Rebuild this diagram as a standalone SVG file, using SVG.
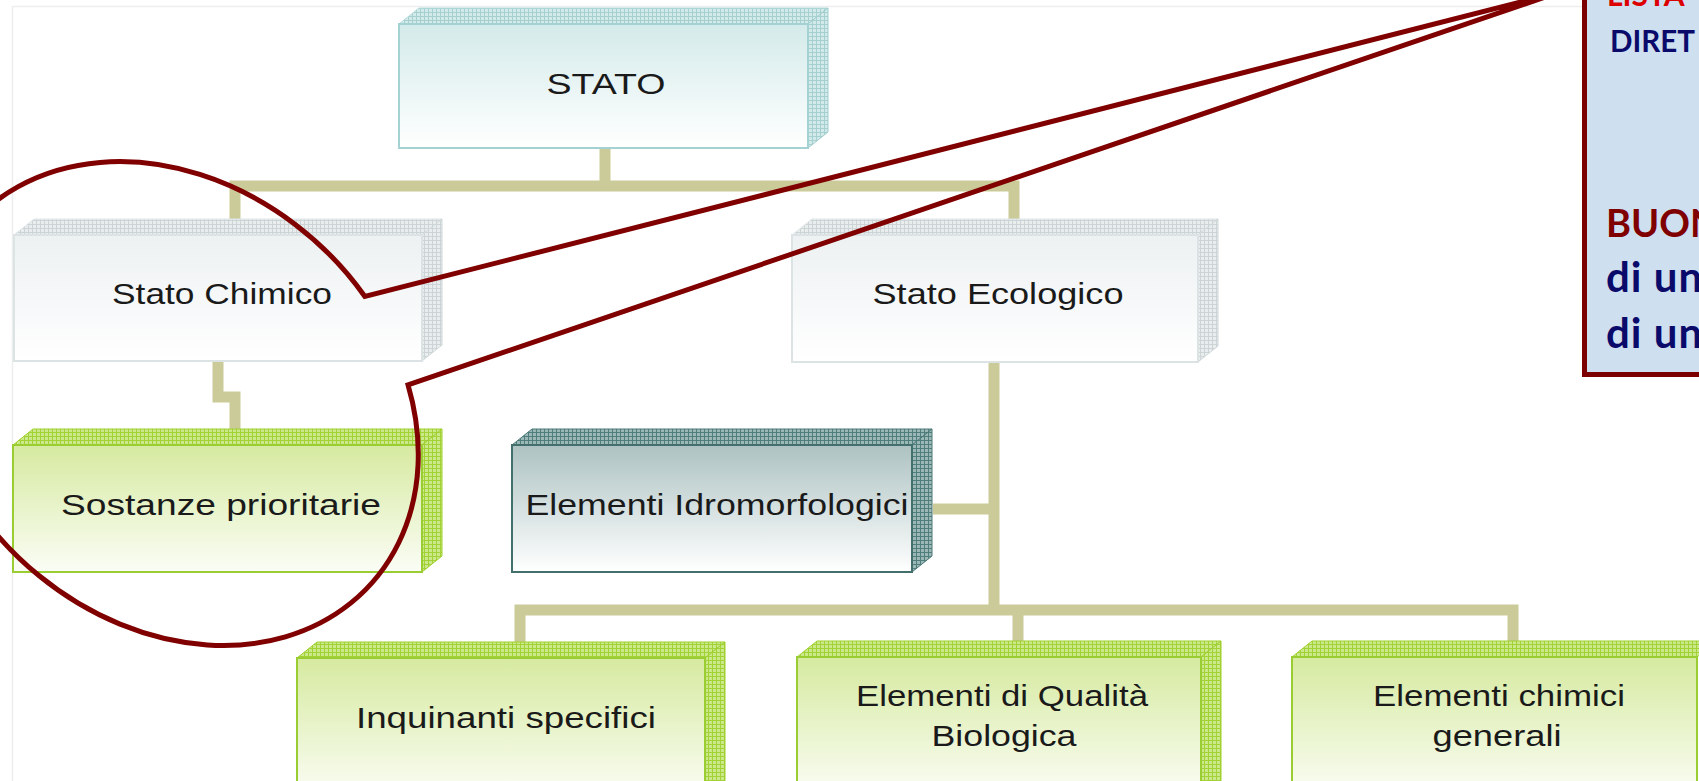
<svg xmlns="http://www.w3.org/2000/svg" width="1699" height="781" viewBox="0 0 1699 781">
<defs>
<style>
.lbl{font-family:"Liberation Sans",Arial,sans-serif;font-size:30px;fill:#1a1a1a;text-anchor:middle}
.conn{fill:none;stroke:#cbcb99;stroke-width:11;stroke-linejoin:miter}
.co{font-family:Lato,"Open Sans",sans-serif;font-weight:bold}
</style>
<pattern id="pTeal" width="4" height="4" patternUnits="userSpaceOnUse"><rect width="4" height="4" fill="#d2eaea"/><path d="M0 0.5H4M0.5 0V4" stroke="#a6d0d0" stroke-width="1"/></pattern>
<pattern id="pGray" width="4" height="4" patternUnits="userSpaceOnUse"><rect width="4" height="4" fill="#e9edee"/><path d="M0 0.5H4M0.5 0V4" stroke="#ccd4d6" stroke-width="1"/></pattern>
<pattern id="pGreen" width="4" height="4" patternUnits="userSpaceOnUse"><rect width="4" height="4" fill="#cbe88a"/><path d="M0 0.5H4M0.5 0V4" stroke="#a2d236" stroke-width="1"/></pattern>
<pattern id="pDark" width="4" height="4" patternUnits="userSpaceOnUse"><rect width="4" height="4" fill="#9bb8b6"/><path d="M0 0.5H4M0.5 0V4" stroke="#4f7e7c" stroke-width="1"/></pattern>
<linearGradient id="gTeal" x1="0" y1="0" x2="0" y2="1"><stop offset="0" stop-color="#d4eaea"/><stop offset="1" stop-color="#ffffff"/></linearGradient>
<linearGradient id="gGray" x1="0" y1="0" x2="0" y2="1"><stop offset="0" stop-color="#edf1f2"/><stop offset="1" stop-color="#ffffff"/></linearGradient>
<linearGradient id="gGreen" x1="0" y1="0" x2="0" y2="1"><stop offset="0" stop-color="#d6eaa0"/><stop offset="1" stop-color="#fbfdf6"/></linearGradient>
<linearGradient id="gDark" x1="0" y1="0" x2="0" y2="1"><stop offset="0" stop-color="#adc2c2"/><stop offset="1" stop-color="#ffffff"/></linearGradient>
</defs>
<rect width="1699" height="781" fill="#ffffff"/>
<path d="M12.5 781V6.5H1590" fill="none" stroke="#ededed" stroke-width="1.5"/>

<g id="connectors">
<path class="conn" d="M605 148V186"/>
<path class="conn" d="M235 219V186H1014V219"/>
<path class="conn" d="M218 361V397H235V429"/>
<path class="conn" d="M994 362V610"/>
<path class="conn" d="M933 509H994"/>
<path class="conn" d="M520 642V610H1513V641"/>
<path class="conn" d="M1018 610V642"/>
</g>

<g id="stato">
<polygon points="399,24 419,8 828,8 808,24" fill="url(#pTeal)" stroke="#b4dcdc" stroke-width="1"/>
<polygon points="808,24 828,8 828,132 808,148" fill="url(#pTeal)" stroke="#9fcccc" stroke-width="1"/>
<rect x="399" y="24" width="409" height="124" fill="url(#gTeal)" stroke="#a4d2d2" stroke-width="2"/>
<text class="lbl" x="606" y="94" textLength="119" lengthAdjust="spacingAndGlyphs">STATO</text>
</g>

<g id="stato-chimico">
<polygon points="14,235 34,219 442,219 422,235" fill="url(#pGray)" stroke="#dfe5e7" stroke-width="1"/>
<polygon points="422,235 442,219 442,345 422,361" fill="url(#pGray)" stroke="#d0d8da" stroke-width="1"/>
<rect x="14" y="235" width="408" height="126" fill="url(#gGray)" stroke="#dbe3e5" stroke-width="2"/>
<text class="lbl" x="222" y="304" textLength="220" lengthAdjust="spacingAndGlyphs">Stato Chimico</text>
</g>

<g id="stato-ecologico">
<polygon points="792,235 812,219 1218,219 1198,235" fill="url(#pGray)" stroke="#dfe5e7" stroke-width="1"/>
<polygon points="1198,235 1218,219 1218,346 1198,362" fill="url(#pGray)" stroke="#d0d8da" stroke-width="1"/>
<rect x="792" y="235" width="406" height="127" fill="url(#gGray)" stroke="#dbe3e5" stroke-width="2"/>
<text class="lbl" x="998" y="304" textLength="251" lengthAdjust="spacingAndGlyphs">Stato Ecologico</text>
</g>

<g id="sostanze">
<polygon points="13,445 33,429 442,429 422,445" fill="url(#pGreen)" stroke="#9fd02c" stroke-width="1"/>
<polygon points="422,445 442,429 442,556 422,572" fill="url(#pGreen)" stroke="#9fd02c" stroke-width="1"/>
<rect x="13" y="445" width="409" height="127" fill="url(#gGreen)" stroke="#9acd32" stroke-width="2"/>
<text class="lbl" x="221" y="515" textLength="320" lengthAdjust="spacingAndGlyphs">Sostanze prioritarie</text>
</g>

<g id="idromorfologici">
<polygon points="512,445 532,429 932,429 912,445" fill="url(#pDark)" stroke="#4a7876" stroke-width="1"/>
<polygon points="912,445 932,429 932,556 912,572" fill="url(#pDark)" stroke="#4a7876" stroke-width="1"/>
<rect x="512" y="445" width="400" height="127" fill="url(#gDark)" stroke="#436f6d" stroke-width="2"/>
<text class="lbl" x="717" y="515" textLength="383" lengthAdjust="spacingAndGlyphs">Elementi Idromorfologici</text>
</g>

<g id="inquinanti">
<polygon points="297,658 317,642 725,642 705,658" fill="url(#pGreen)" stroke="#9fd02c" stroke-width="1"/>
<polygon points="705,658 725,642 725,782 705,798" fill="url(#pGreen)" stroke="#9fd02c" stroke-width="1"/>
<rect x="297" y="658" width="408" height="140" fill="url(#gGreen)" stroke="#9acd32" stroke-width="2"/>
<text class="lbl" x="506" y="728" textLength="300" lengthAdjust="spacingAndGlyphs">Inquinanti specifici</text>
</g>

<g id="qualita-biologica">
<polygon points="797,657 817,641 1221,641 1201,657" fill="url(#pGreen)" stroke="#9fd02c" stroke-width="1"/>
<polygon points="1201,657 1221,641 1221,781 1201,797" fill="url(#pGreen)" stroke="#9fd02c" stroke-width="1"/>
<rect x="797" y="657" width="404" height="140" fill="url(#gGreen)" stroke="#9acd32" stroke-width="2"/>
<text class="lbl" x="1002" y="706" textLength="292" lengthAdjust="spacingAndGlyphs">Elementi di Qualità</text>
<text class="lbl" x="1004" y="746" textLength="145" lengthAdjust="spacingAndGlyphs">Biologica</text>
</g>

<g id="chimici-generali">
<polygon points="1292,657 1312,641 1717,641 1697,657" fill="url(#pGreen)" stroke="#9fd02c" stroke-width="1"/>
<rect x="1292" y="657" width="405" height="140" fill="url(#gGreen)" stroke="#9acd32" stroke-width="2"/>
<text class="lbl" x="1499" y="706" textLength="252" lengthAdjust="spacingAndGlyphs">Elementi chimici</text>
<text class="lbl" x="1497" y="746" textLength="129" lengthAdjust="spacingAndGlyphs">generali</text>
</g>

<g id="callout-shape">
<path d="M364.89 296.49A269 217 42.3 0 0 -21.89 510.51A269 217 42.3 0 0 408.06 384.93L1560 -8Z" fill="none" stroke="#800000" stroke-width="5" stroke-linejoin="miter"/>
</g>

<g id="callout-box">
<rect x="1584.5" y="-10" width="200" height="384.5" fill="#cedff0" stroke="#7d0000" stroke-width="5"/>
<text class="co" x="1607" y="6" font-size="30" fill="#dd0000">LISTA</text>
<text class="co" x="1610" y="52" font-size="30" fill="#0a0a6a" textLength="85" lengthAdjust="spacingAndGlyphs">DIRET</text>
<text class="co" x="1606" y="237" font-size="38" fill="#800000">BUON</text>
<text class="co" x="1606" y="292" font-size="42" fill="#0a0a6a" letter-spacing="1">di un</text>
<text class="co" x="1606" y="348" font-size="42" fill="#0a0a6a" letter-spacing="1">di un</text>
</g>
</svg>
